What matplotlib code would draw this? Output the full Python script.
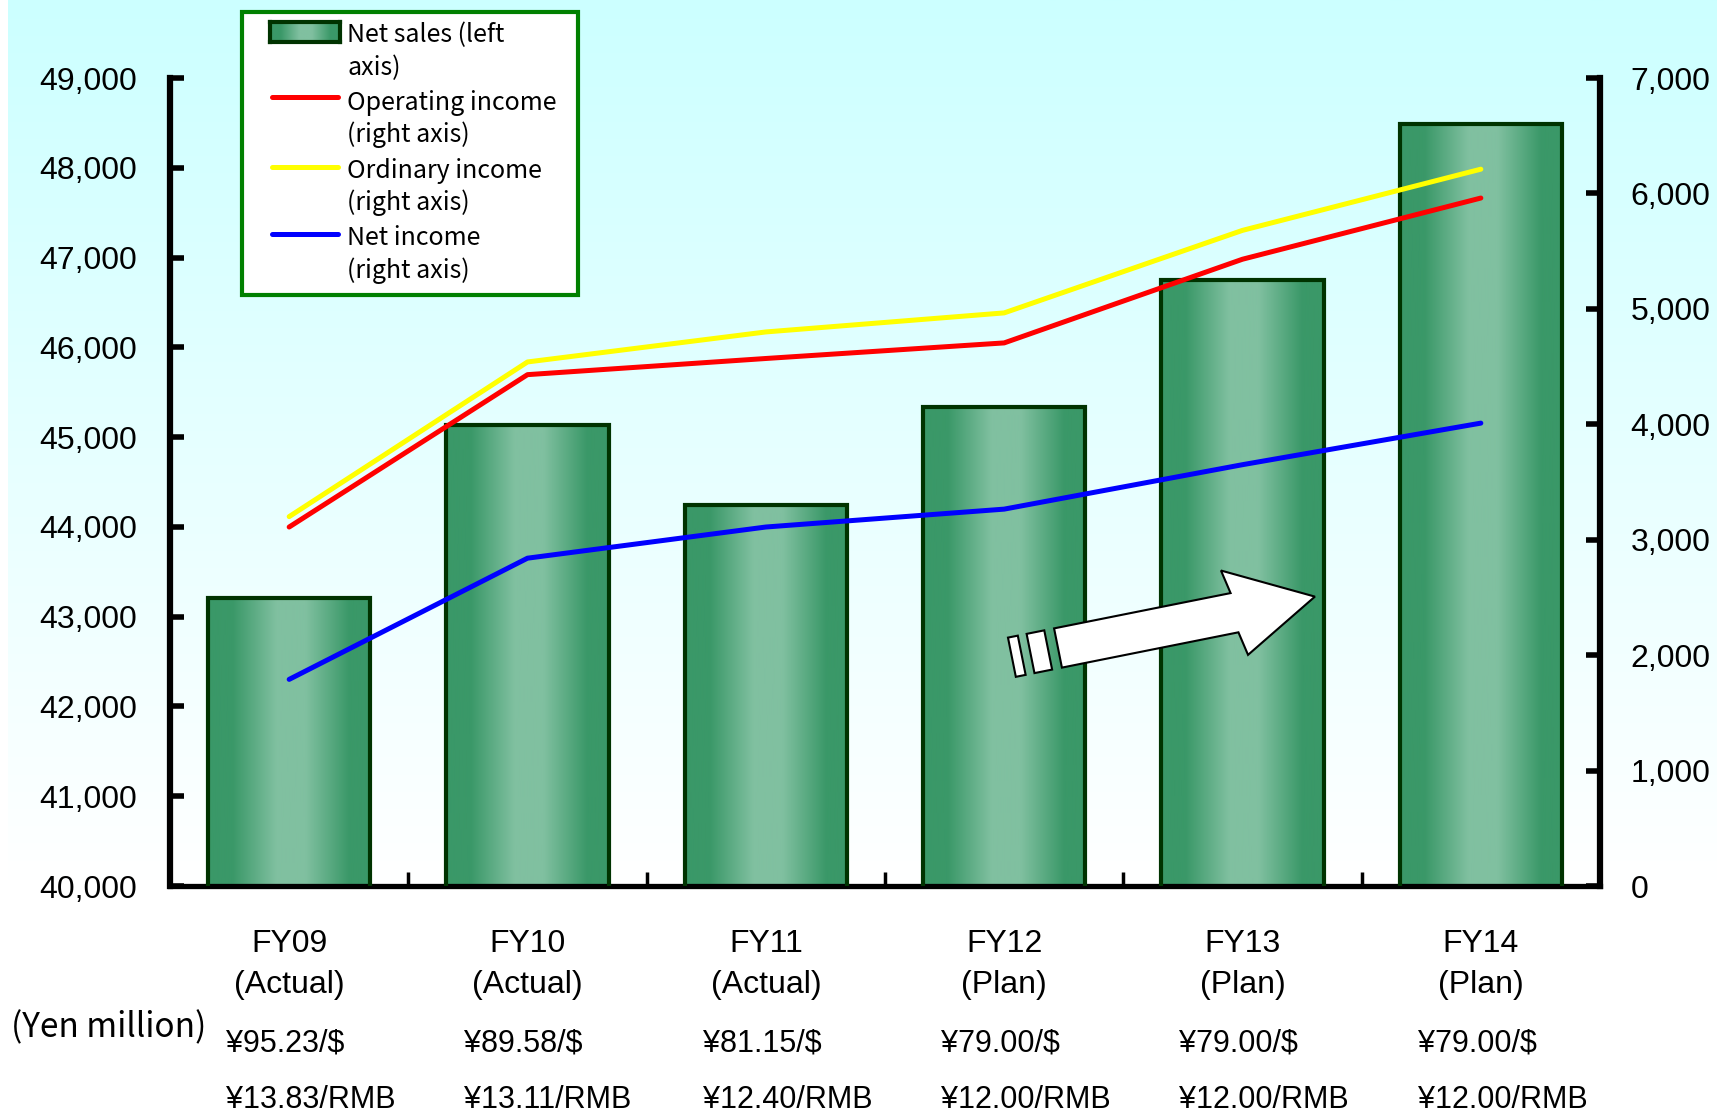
import numpy as np
import matplotlib
matplotlib.use("Agg")
import matplotlib.pyplot as plt
from matplotlib.colors import LinearSegmentedColormap
from matplotlib.patches import Polygon, Rectangle
from matplotlib.lines import Line2D
from matplotlib.ticker import FuncFormatter

# data (yen million)
years = ["FY09", "FY10", "FY11", "FY12", "FY13", "FY14"]
status = ["(Actual)", "(Actual)", "(Actual)", "(Plan)", "(Plan)", "(Plan)"]
usd_rate = ["¥95.23/$", "¥89.58/$", "¥81.15/$", "¥79.00/$", "¥79.00/$", "¥79.00/$"]
rmb_rate = ["¥13.83/RMB", "¥13.11/RMB", "¥12.40/RMB", "¥12.00/RMB", "¥12.00/RMB", "¥12.00/RMB"]
net_sales = [43210, 45130, 44240, 45330, 46750, 48490]
operating_income = [3110, 4430, 4570, 4705, 5430, 5960]
ordinary_income = [3200, 4540, 4800, 4965, 5680, 6210]
net_income = [1790, 2840, 3110, 3265, 3650, 4010]

W, H = 1717, 1112
plt.rcParams['font.family'] = ['Liberation Sans', 'Noto Sans CJK JP', 'DejaVu Sans']
jp = ['Noto Sans CJK JP', 'DejaVu Sans']

def fx(px):
    return px / W

def fy(py):
    return 1 - py / H

fig = plt.figure(figsize=(W / 100, H / 100), dpi=100)
fig.patch.set_facecolor('white')

# background: light cyan fading to white
bg = fig.add_axes([fx(8), 0, 1 - fx(8), 1], zorder=-10)
t = np.clip(np.linspace(0, 1, 400) / 0.79, 0, 1)
shade = np.ones((400, 1, 3))
shade[:, 0, 0] = 0.8 + 0.2 * t
bg.imshow(shade, aspect='auto', extent=(0, 1, 0, 1), origin='upper')
bg.axis('off')

ax = fig.add_axes([fx(170), fy(886), fx(1600) - fx(170), fy(78) - fy(886)])
ax.patch.set_visible(False)
ax2 = ax.twinx()
ax2.patch.set_visible(False)

x = np.arange(len(years))
bar_cmap = LinearSegmentedColormap.from_list('bar', ['#3a9868', '#80c0a0'])
profile = np.interp(np.linspace(0, 1, 256), [0, .15, .42, .6, .87, 1], [0, 0, 1, 1, 0, 0])
grad = profile.reshape(1, -1)

bars = ax.bar(x, net_sales, width=0.68, facecolor='none', edgecolor='#003300',
              linewidth=3, zorder=3)
for b in bars:
    ax.imshow(grad, cmap=bar_cmap, aspect='auto', interpolation='bilinear',
              extent=(b.get_x(), b.get_x() + b.get_width(), b.get_y(), b.get_height()),
              zorder=2, vmin=0, vmax=1)

ax.set_xlim(-0.5, len(years) - 0.5)
ax.set_ylim(40000, 49000)
ax.set_yticks(np.arange(40000, 49001, 1000))
ax.yaxis.set_major_formatter(FuncFormatter(lambda v, p: f"{v:,.0f}"))
ax.set_xticks(x[:-1] + 0.5)
ax.set_xticklabels([])
ax.tick_params(axis='y', direction='in', length=10, width=4, labelsize=23, pad=24)
ax.tick_params(axis='x', direction='in', length=10, width=2.5)
for s in ['top', 'right']:
    ax.spines[s].set_visible(False)
ax.spines['left'].set_linewidth(4.5)
ax.spines['bottom'].set_linewidth(3.8)

lw = 3.6
ax2.plot(x, ordinary_income, color='#ffff00', lw=lw, solid_capstyle='round', solid_joinstyle='round')
ax2.plot(x, operating_income, color='#ff0000', lw=lw, solid_capstyle='round', solid_joinstyle='round')
ax2.plot(x, net_income, color='#0000ff', lw=lw, solid_capstyle='round', solid_joinstyle='round')
ax2.set_ylim(0, 7000)
ax2.set_yticks(np.arange(0, 7001, 1000))
ax2.yaxis.set_major_formatter(FuncFormatter(lambda v, p: f"{v:,.0f}"))
ax2.tick_params(axis='y', direction='in', length=10, width=4, labelsize=23, pad=22)
for s in ['top', 'left', 'bottom']:
    ax2.spines[s].set_visible(False)
ax2.spines['right'].set_linewidth(4.5)

# category labels and exchange rates under the axis
tr = matplotlib.transforms.blended_transform_factory(ax.transData, fig.transFigure)
for i in x:
    ax.text(i, fy(952), years[i], transform=tr, ha='center', va='baseline', fontsize=23)
    ax.text(i, fy(993), status[i], transform=tr, ha='center', va='baseline', fontsize=23)
    ax.text(i - 0.265, fy(1052), usd_rate[i], transform=tr, ha='left', va='baseline', fontsize=22)
    ax.text(i - 0.265, fy(1108), rmb_rate[i], transform=tr, ha='left', va='baseline', fontsize=22)
fig.text(fx(11), fy(1037), "(Yen million)", ha='left', va='baseline', fontsize=24, family=jp)

# legend box
fig.patches.append(Rectangle((fx(242), fy(295)), fx(578) - fx(242), fy(12) - fy(295),
                             transform=fig.transFigure, facecolor='white',
                             edgecolor='#008000', linewidth=3, zorder=5))
leg_patch = fig.add_axes([fx(270), fy(42), fx(340) - fx(270), fy(22) - fy(42)], zorder=6)
leg_patch.imshow(grad, cmap=bar_cmap, aspect='auto', interpolation='bilinear', vmin=0, vmax=1)
leg_patch.set_xticks([])
leg_patch.set_yticks([])
for s in leg_patch.spines.values():
    s.set_color('#003300')
    s.set_linewidth(3)

for color, yl in [('#ff0000', 97), ('#ffff00', 167), ('#0000ff', 234)]:
    fig.lines.append(Line2D([fx(272), fx(338)], [fy(yl), fy(yl)], transform=fig.transFigure,
                            color=color, lw=lw, solid_capstyle='round', zorder=6))

legend_text = [("Net sales (left", 42), ("axis)", 75),
               ("Operating income", 110), ("(right axis)", 142),
               ("Ordinary income", 178), ("(right axis)", 210),
               ("Net income", 245), ("(right axis)", 278)]
for s, yb in legend_text:
    fig.text(fx(347), fy(yb), s, ha='left', va='baseline', fontsize=18, family=jp, zorder=7)

# growth arrow
ang = np.arctan2(51, 255)
ox, oy = 1058, 648
def to_fig(u, v):
    px = ox + u * np.cos(ang) + v * np.sin(ang)
    py = oy - u * np.sin(ang) + v * np.cos(ang)
    return (fx(px), fy(py))

arrow_uv = [(0, -20), (180, -20), (175, -44), (262, 0), (185, 44), (180, 20), (0, 20)]
fig.patches.append(Polygon([to_fig(u, v) for u, v in arrow_uv], closed=True,
                           transform=fig.transFigure, facecolor='white',
                           edgecolor='black', linewidth=1.5, zorder=4))
for u0, u1 in [(-28, -10), (-47, -37)]:
    pts = [(u0, -20), (u1, -20), (u1, 20), (u0, 20)]
    fig.patches.append(Polygon([to_fig(u, v) for u, v in pts], closed=True,
                               transform=fig.transFigure, facecolor='white',
                               edgecolor='black', linewidth=1.5, zorder=4))

fig.savefig("out.png", dpi=100)
